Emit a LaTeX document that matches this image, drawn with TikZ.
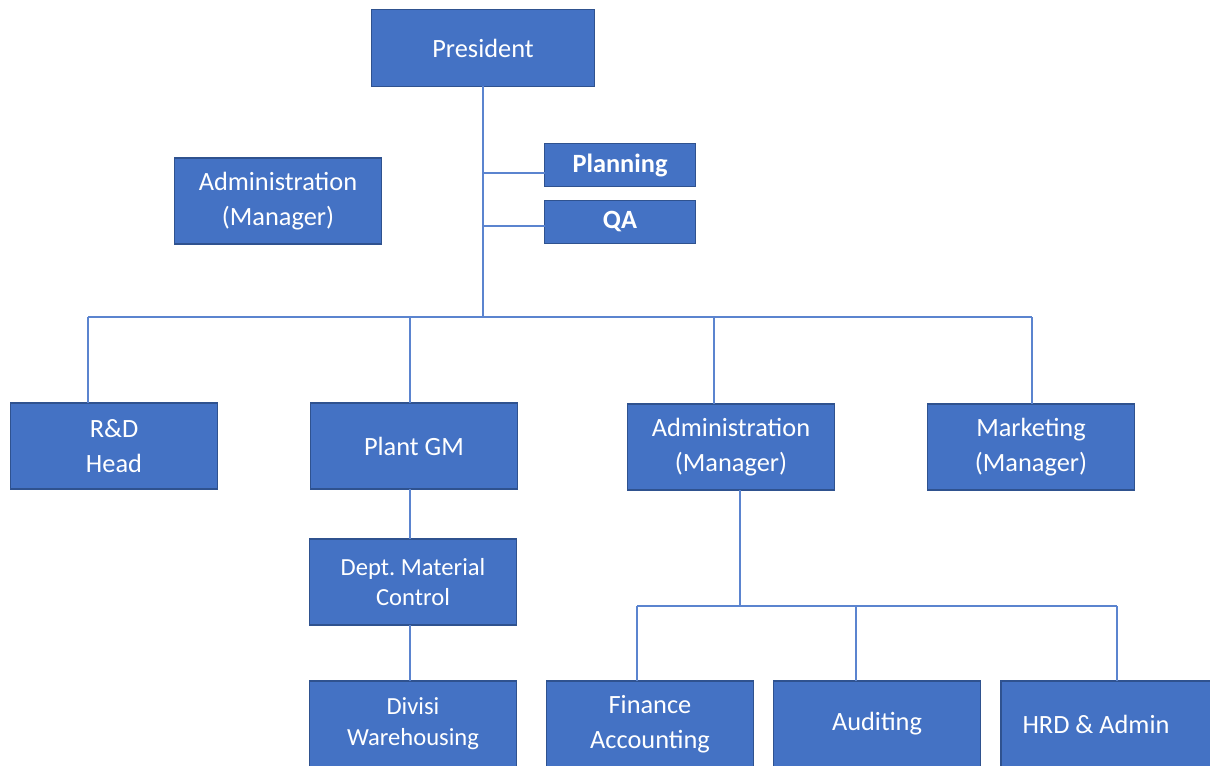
\documentclass[tikz,border=0pt]{standalone}
\usepackage{fontspec}
\setmainfont{Carlito}
\usepackage{tikz}
\definecolor{boxfill}{HTML}{4472C4}
\definecolor{boxline}{HTML}{2F528F}
\definecolor{linkline}{HTML}{5B84CF}
\frenchspacing

\begin{document}
\begin{tikzpicture}[x=0.02cm,y=-0.02cm,
		box/.style={draw=boxline,fill=boxfill,line width=0.9pt,text=white,align=center,
			minimum width=4.14cm,minimum height=1.72cm,inner sep=0pt,outer sep=0pt,
			font=\fontsize{15}{20}\selectfont},
		smallbox/.style={box,minimum width=3.02cm,minimum height=0.86cm,
			font=\fontsize{15}{18}\selectfont\bfseries},
		midtext/.style={font=\fontsize{14}{17.5}\selectfont},
		link/.style={draw=linkline,line width=0.7pt}]
		\useasboundingbox (0,0) rectangle (1210,765);
		\clip (0,0) rectangle (1210,765);
		% top part
		\node[box,minimum width=4.46cm,minimum height=1.54cm] (pres) at (483,48) {President};
		\node[smallbox] (plan) at (620,165) {Planning};
		\node[smallbox] (qa) at (620,222) {QA};
		\node[box] (admtop) at (278,201) {Administration\\(Manager)};
		% second row
		\node[box] (rd) at (114,446) {R\&D\\Head};
		\node[box] (plant) at (414,446) {Plant GM};
		\node[box] (adm) at (731,447) {Administration\\(Manager)};
		\node[box] (mkt) at (1031,447) {Marketing\\(Manager)};
		% plant column
		\node[box,midtext] (dmc) at (413,582) {Dept. Material\\Control};
		\node[box,midtext] (wh) at (413,724) {Divisi\\Warehousing};
		% admin column
		\node[box] (fin) at (650,724) {Finance\\Accounting};
		\node[box] (aud) at (877,724) {Auditing};
		\node[box,minimum width=4.2cm] (hrd) at (1106,724) {HRD \& Admin\hspace*{0.4cm}};
		% connectors
		\coordinate (bar) at (483,317);
		\coordinate (barL) at (88,317);
		\coordinate (barR) at (1032,317);
		\coordinate (sub) at (740,606);
		\coordinate (subL) at (637,606);
		\coordinate (subR) at (1117,606);
		\draw[link] (pres.south) -- (bar);
		\draw[link] ([yshift=-0.16cm]plan.west) -- ([yshift=-0.16cm]plan.west -| pres.south);
		\draw[link] ([yshift=-0.08cm]qa.west) -- ([yshift=-0.08cm]qa.west -| pres.south);
		\draw[link] (barL) -- (barR);
		\draw[link] (barL) -- (rd.north -| barL);
		\draw[link] (plant.north -| 410,0) -- (410,317);
		\draw[link] (adm.north -| 714,0) -- (714,317);
		\draw[link] (barR) -- (mkt.north -| barR);
		\draw[link] (plant.south -| 410,0) -- (dmc.north -| 410,0);
		\draw[link] (dmc.south -| 410,0) -- (wh.north -| 410,0);
		\draw[link] (adm.south -| sub) -- (sub);
		\draw[link] (subL) -- (subR);
		\draw[link] (subL) -- (fin.north -| subL);
		\draw[link] (aud.north -| 856,0) -- (856,606);
		\draw[link] (subR) -- (hrd.north -| subR);
\end{tikzpicture}
\end{document}
